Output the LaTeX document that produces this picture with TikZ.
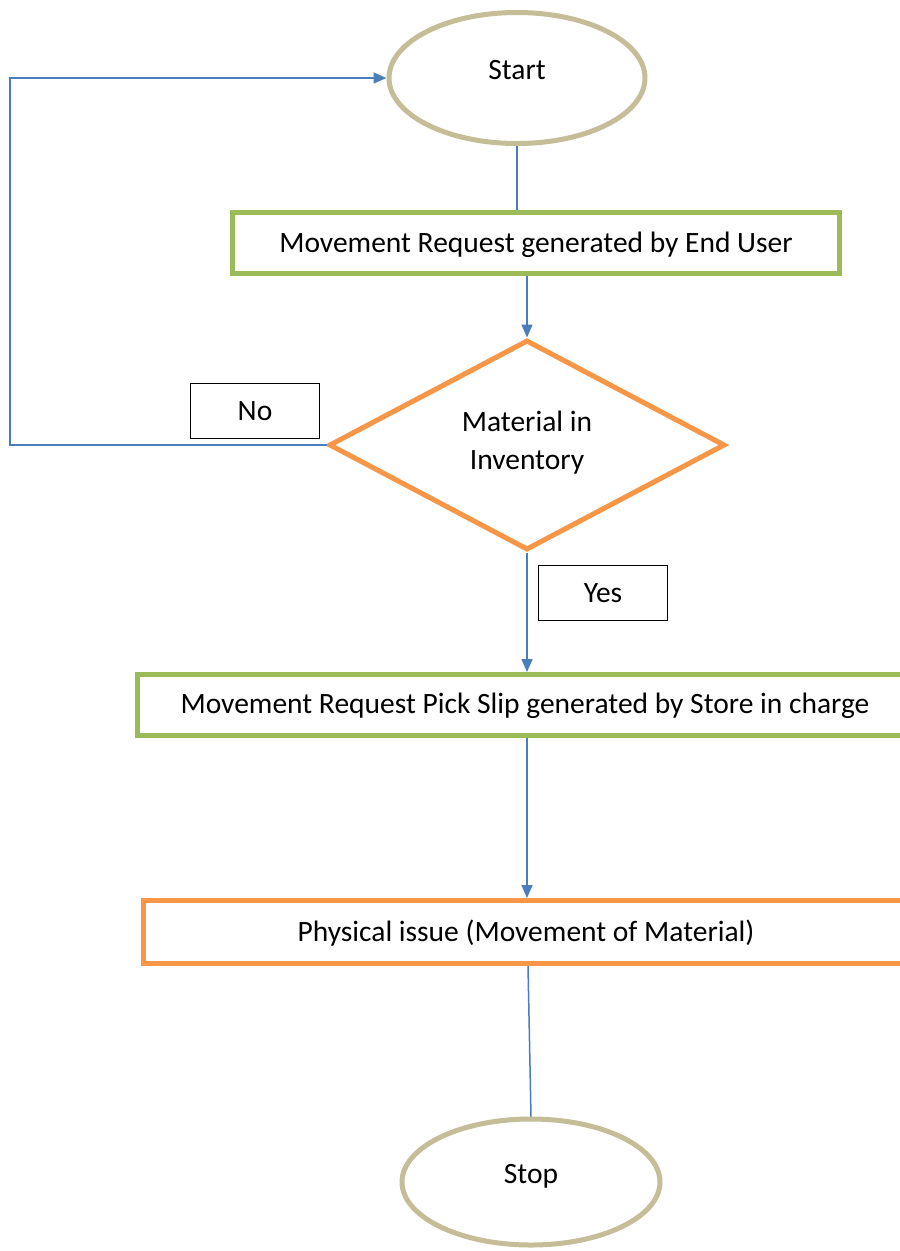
\documentclass[tikz,border=0pt]{standalone}
\usepackage{fontspec}
\setmainfont{Carlito}
\usetikzlibrary{shapes.geometric,arrows.meta}
\definecolor{tan}{HTML}{C4BD97}
\definecolor{grn}{HTML}{9BBB59}
\definecolor{org}{HTML}{F79646}
\definecolor{blu}{HTML}{4A7EBB}
\tikzset{
  every node/.style={font=\fontsize{29.5}{38}\selectfont},
  term/.style={draw=tan, line width=5pt, ellipse},
  procbox/.style={draw=grn, line width=5pt, rectangle},
  issuebox/.style={draw=org, line width=5pt, rectangle},
  decide/.style={draw=org, line width=5pt, diamond, align=center},
  tagbox/.style={draw=black, line width=1pt, rectangle, minimum width=129pt, minimum height=55pt},
  conn/.style={draw=blu, line width=1.5pt},
  arr/.style={conn, -{Triangle[length=13pt,width=11pt]}},
}
\begin{document}
\begin{tikzpicture}[x=1pt,y=-1pt]
\useasboundingbox (0,0) rectangle (900,1251);
\fill[white] (0,0) rectangle (900,1251);
\node[term, minimum width=256pt, minimum height=131pt] (start) at (517,78) {};
\node (starttxt) at (517,70) {Start};
\node[procbox, minimum width=607pt, minimum height=61pt] (req) at (536,243) {};
\node (reqtxt) at (536,245) {Movement Request generated by End User};
\node[decide, minimum width=396pt, minimum height=210pt] (dec) at (527,445) {};
\node (dectxt) at (527,443) [align=center] {Material in\\Inventory};
\node[tagbox] (no) at (255,411) {No};
\node[tagbox] (yes) at (603,593) {Yes};
\node[procbox, minimum width=780pt, minimum height=61pt] (pick) at (527,705) {};
\node (picktxt) at (525,706) {Movement Request Pick Slip generated by Store in charge};
\node[issuebox, minimum width=770pt, minimum height=63pt] (issue) at (528,932) {};
\node (issuetxt) at (526,933) {Physical issue (Movement of Material)};
\node[term, minimum width=258pt, minimum height=126pt] (stop) at (531,1182) {};
\node (stoptxt) at (531,1176) {Stop};
\coordinate (c1) at (10,445);
\coordinate (c2) at (10,78);
\draw[conn] (start.south) -- (start.south |- req.north);
\draw[arr] (req.south -| dec.north) -- (dec.north);
\draw[arr] (dec.south) -- (dec.south |- pick.north);
\draw[arr] (pick.south) -- (pick.south |- issue.north);
\draw[conn] (issue.south) -- (stop.north);
\draw[arr] (dec.west) -- (c1) -- (c2) -- (start.west);
\end{tikzpicture}
\end{document}
